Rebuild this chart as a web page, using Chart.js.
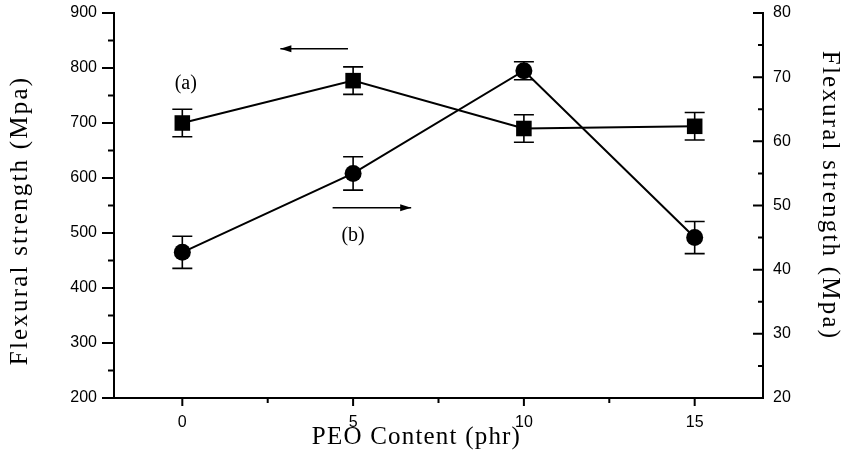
<!DOCTYPE html>
<html>
<head>
<meta charset="utf-8">
<script src="https://cdn.jsdelivr.net/npm/chart.js@4.4.0/dist/chart.umd.min.js"></script>
<style>
  body { margin: 0; background: #fff; }
  canvas { display: block; }
</style>
</head>
<body>
<canvas id="chart" width="842" height="458"></canvas>
<script>
// x values, PEO content (phr)
const peoContent = [0, 5, 10, 15];
// curve (a), read on the left axis
const strengthA = [700, 777, 690, 694];
const errorA = [25, 25, 25, 25];
// curve (b), read on the right axis
const strengthB = [42.7, 55, 71, 45];
const errorB = [2.5, 2.6, 1.4, 2.5];

// tick values
const xTicks = [0, 5, 10, 15];
const xMinor = [2.5, 7.5, 12.5];
const leftTicks = [200, 300, 400, 500, 600, 700, 800, 900];
const leftMinor = [250, 350, 450, 550, 650, 750, 850];
const rightTicks = [20, 30, 40, 50, 60, 70, 80];
const rightMinor = [25, 35, 45, 55, 65, 75];

const tickFont = { family: 'Liberation Sans', size: 16 };
const titleFont = { family: 'Liberation Serif', size: 25 };

// the scanned titles are wide: space the letters out and nudge them
function wideTitle(scale, spacing, dx, dy) {
  if (scale._wide) return;
  scale._wide = true;
  const orig = scale.drawTitle;
  scale.drawTitle = function () {
    const ctx = this.ctx;
    ctx.save();
    ctx.letterSpacing = spacing + 'px';
    ctx.translate(dx, dy);
    orig.call(this);
    ctx.restore();
  };
}

// error bars, drawn under the markers
const errorBars = {
  id: 'errorBars',
  beforeDatasetsDraw(chart) {
    const ctx = chart.ctx;
    ctx.save();
    ctx.strokeStyle = '#000';
    ctx.lineWidth = 1.6;
    chart.data.datasets.forEach((ds, i) => {
      const meta = chart.getDatasetMeta(i);
      const ys = chart.scales[ds.yAxisID];
      ds.errors.forEach((e, j) => {
        const x = meta.data[j].x;
        const v = ds.data[j].y;
        const top = ys.getPixelForValue(v + e);
        const bot = ys.getPixelForValue(v - e);
        ctx.beginPath();
        ctx.moveTo(x, top); ctx.lineTo(x, bot);
        ctx.moveTo(x - 10, top); ctx.lineTo(x + 10, top);
        ctx.moveTo(x - 10, bot); ctx.lineTo(x + 10, bot);
        ctx.stroke();
      });
    });
    ctx.restore();
  }
};

// major and minor tick marks
const tickMarks = {
  id: 'tickMarks',
  afterDraw(chart) {
    const { ctx, chartArea: a, scales } = chart;
    ctx.save();
    ctx.strokeStyle = '#000';
    ctx.lineWidth = 2;
    ctx.beginPath();
    const hx = (vals, len) => vals.forEach(v => {
      const p = scales.x.getPixelForValue(v);
      ctx.moveTo(p, a.bottom); ctx.lineTo(p, a.bottom + len);
    });
    const vy = (scale, vals, x0, len) => vals.forEach(v => {
      const p = scale.getPixelForValue(v);
      ctx.moveTo(x0, p); ctx.lineTo(x0 + len, p);
    });
    hx(xTicks, 8); hx(xMinor, 5);
    vy(scales.yL, leftTicks, a.left, -12); vy(scales.yL, leftMinor, a.left, -6);
    vy(scales.yR, rightTicks, a.right, -10); vy(scales.yR, rightMinor, a.right, -5);
    ctx.stroke();
    ctx.restore();
  }
};

// the (a)/(b) labels and direction arrows
const notes = {
  id: 'notes',
  afterDraw(chart) {
    const { ctx, scales } = chart;
    const X = v => scales.x.getPixelForValue(v);
    const Y = v => scales.yL.getPixelForValue(v);
    ctx.save();
    ctx.fillStyle = '#000';
    ctx.strokeStyle = '#000';
    ctx.font = '20px "Liberation Serif"';
    ctx.textAlign = 'center';
    ctx.textBaseline = 'middle';
    ctx.fillText('(a)', X(0.1), Y(771));
    ctx.fillText('(b)', X(5.0), Y(495));
    const arrow = (x1, x2, y) => {
      ctx.lineWidth = 1.6;
      ctx.beginPath();
      ctx.moveTo(x1, y); ctx.lineTo(x2, y);
      ctx.stroke();
      const d = Math.sign(x2 - x1);
      ctx.beginPath();
      ctx.moveTo(x2, y);
      ctx.lineTo(x2 - d * 11, y - 3.5);
      ctx.lineTo(x2 - d * 11, y + 3.5);
      ctx.closePath();
      ctx.fill();
    };
    arrow(X(4.85), X(2.87), Y(835));
    arrow(X(4.4), X(6.7), Y(546));
    ctx.restore();
  }
};

new Chart(document.getElementById('chart'), {
  type: 'line',
  data: {
    datasets: [
      {
        label: '(a)',
        data: peoContent.map((x, i) => ({ x, y: strengthA[i] })),
        errors: errorA,
        yAxisID: 'yL',
        borderColor: '#000',
        borderWidth: 2,
        backgroundColor: '#000',
        pointStyle: 'rect',
        pointRadius: 11,
        pointBackgroundColor: '#000',
        pointBorderColor: '#000',
        pointBorderWidth: 0,
        tension: 0
      },
      {
        label: '(b)',
        data: peoContent.map((x, i) => ({ x, y: strengthB[i] })),
        errors: errorB,
        yAxisID: 'yR',
        borderColor: '#000',
        borderWidth: 2,
        backgroundColor: '#000',
        pointStyle: 'circle',
        pointRadius: 8.5,
        pointBackgroundColor: '#000',
        pointBorderColor: '#000',
        pointBorderWidth: 0,
        tension: 0
      }
    ]
  },
  options: {
    responsive: false,
    animation: false,
    layout: { padding: { top: 13, left: 0, right: 0, bottom: 0 } },
    plugins: { legend: { display: false }, tooltip: { enabled: false } },
    scales: {
      x: {
        type: 'linear',
        min: -2,
        max: 17,
        afterBuildTicks: s => { s.ticks = xTicks.map(v => ({ value: v })); },
        afterFit: s => {
          s.height = 60; s.paddingLeft = 0; s.paddingRight = 0;
          wideTitle(s, 1.2, -22, 0);
        },
        grid: { drawOnChartArea: false, drawTicks: false },
        border: { display: true, color: '#000', width: 2 },
        ticks: { color: '#000', font: tickFont, padding: 15, maxRotation: 0 },
        title: {
          display: true,
          text: 'PEO Content (phr)',
          color: '#000',
          font: titleFont,
          padding: { top: 0, bottom: 6 }
        }
      },
      yL: {
        type: 'linear',
        position: 'left',
        min: 200,
        max: 900,
        afterBuildTicks: s => { s.ticks = leftTicks.map(v => ({ value: v })); },
        afterFit: s => {
          s.width = 114; s.paddingTop = 0; s.paddingBottom = 0;
          wideTitle(s, 2.2, 0, 15);
        },
        grid: { drawOnChartArea: false, drawTicks: false },
        border: { display: true, color: '#000', width: 2 },
        ticks: { color: '#000', font: tickFont, padding: 17 },
        title: {
          display: true,
          text: 'Flexural strength (Mpa)',
          color: '#000',
          font: titleFont,
          padding: { top: 5, bottom: 0 }
        }
      },
      yR: {
        type: 'linear',
        position: 'right',
        min: 20,
        max: 80,
        afterBuildTicks: s => { s.ticks = rightTicks.map(v => ({ value: v })); },
        afterFit: s => {
          s.width = 79; s.paddingTop = 0; s.paddingBottom = 0;
          wideTitle(s, 2.2, 0, -10);
        },
        grid: { drawOnChartArea: false, drawTicks: false },
        border: { display: true, color: '#000', width: 2 },
        ticks: { color: '#000', font: tickFont, padding: 10 },
        title: {
          display: true,
          text: 'Flexural strength (Mpa)',
          color: '#000',
          font: titleFont,
          padding: { top: -3, bottom: 0 }
        }
      }
    }
  },
  plugins: [errorBars, tickMarks, notes]
});
</script>
</body>
</html>
